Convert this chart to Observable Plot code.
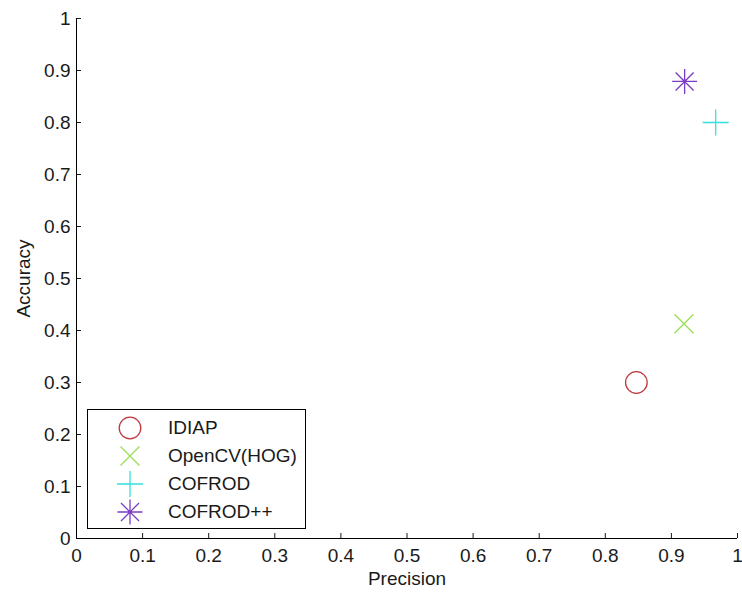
<!DOCTYPE html>
<html><head><meta charset="utf-8">
<script src="https://cdn.jsdelivr.net/npm/d3@7"></script>
<script src="https://cdn.jsdelivr.net/npm/@observablehq/plot@0.6"></script>
<style>
body{margin:0;background:#fff;}
#wrap{position:relative;width:742px;height:594px;font-family:"Liberation Sans",Arial,sans-serif;color:#1a1a1a;}
#legend{position:absolute;left:87px;top:409px;width:217px;height:118px;border:1px solid #000;background:#fff;}
.row{position:absolute;left:0;height:28px;width:217px;}
.row svg{position:absolute;left:27px;top:-1px;}
.row span{position:absolute;left:80px;top:2px;font-size:19px;line-height:24px;white-space:nowrap;}
</style></head>
<body><div id="wrap"><div id="legend"></div></div>
<script>
const methods = ["IDIAP", "OpenCV(HOG)", "COFROD", "COFROD++"];
const precision = [0.847, 0.919, 0.967, 0.920];
const accuracy = [0.300, 0.413, 0.800, 0.879];
const colors = ["#c0393d", "#9bdf5a", "#33e0e0", "#7a3cc2"];
const xTicks = [0, 0.1, 0.2, 0.3, 0.4, 0.5, 0.6, 0.7, 0.8, 0.9, 1];
const yTicks = [0, 0.1, 0.2, 0.3, 0.4, 0.5, 0.6, 0.7, 0.8, 0.9, 1];

const rad = s => Math.sqrt(s / Math.PI);
const symCircle = {draw(c, s){ const r = rad(s)*1.08; c.moveTo(r,0); c.arc(0,0,r,0,2*Math.PI); }};
const symTimes = {draw(c, s){ const a = rad(s)*0.95; c.moveTo(-a,-a); c.lineTo(a,a); c.moveTo(-a,a); c.lineTo(a,-a); }};
const symPlus = {draw(c, s){ const a = rad(s)*1.3; c.moveTo(-a,0); c.lineTo(a,0); c.moveTo(0,-a); c.lineTo(0,a); }};
const symAst = {draw(c, s){ const a = rad(s)*1.25, b = rad(s)*0.9; c.moveTo(-a,0); c.lineTo(a,0); c.moveTo(0,-a); c.lineTo(0,a);
  c.moveTo(-b,-b); c.lineTo(b,b); c.moveTo(-b,b); c.lineTo(b,-b); c.moveTo(1.2,0); c.arc(0,0,1.2,0,2*Math.PI); }};
const symbols = [symCircle, symTimes, symPlus, symAst];

const data = methods.map((m, i) => ({m, p: precision[i], a: accuracy[i]}));

const chart = Plot.plot({
  width: 742, height: 594,
  marginLeft: 76, marginRight: 5, marginTop: 18, marginBottom: 56,
  x: {domain: [0, 1]},
  y: {domain: [0, 1]},
  symbol: {domain: methods, range: symbols},
  color: {domain: methods, range: colors},
  style: {fontFamily: '"Liberation Sans", Arial, sans-serif', fontSize: "19px", color: "#1a1a1a", background: "white"},
  marks: [
    Plot.axisX({ticks: xTicks, tickSize: -5, tickPadding: 15, tickFormat: d => String(d), label: "Precision", labelAnchor: "center", labelOffset: 46, labelArrow: "none"}),
    Plot.axisY({ticks: yTicks, tickSize: -5, tickPadding: 11, tickFormat: d => String(d), label: "Accuracy", labelAnchor: "center", labelOffset: 60, labelArrow: "none"}),
    Plot.ruleX([0], {stroke: "#000"}),
    Plot.ruleY([0], {stroke: "#000"}),
    Plot.dot(data, {x: "p", y: "a", symbol: "m", stroke: "m", fill: "none", r: 10, strokeWidth: 1.3})
  ]
});
const wrap = document.getElementById("wrap");
wrap.insertBefore(chart, wrap.firstChild);

const legend = document.getElementById("legend");
methods.forEach((m, i) => {
  const row = document.createElement("div");
  row.className = "row";
  row.style.top = (4 + i * 28) + "px";
  const p = d3.path();
  symbols[i].draw(p, 100 * Math.PI);
  row.innerHTML = `<svg width="30" height="30" viewBox="-15 -15 30 30"><path d="${p.toString()}" fill="none" stroke="${colors[i]}" stroke-width="1.3"/></svg><span>${m}</span>`;
  legend.appendChild(row);
});
</script></body></html>
